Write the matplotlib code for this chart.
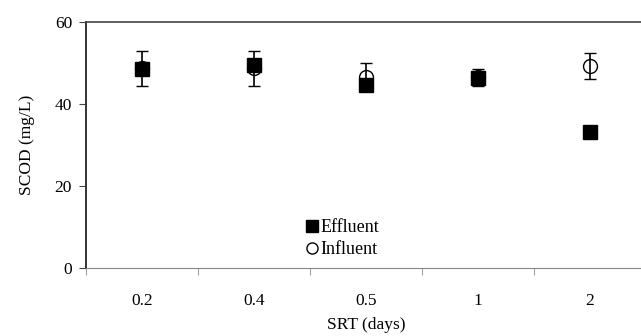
import numpy as np
import matplotlib
matplotlib.use("Agg")
import matplotlib.pyplot as plt
from matplotlib.lines import Line2D

# SCOD vs SRT, effluent and influent
srt = ["0.2", "0.4", "0.5", "1", "2"]
effluent = [48.6, 49.6, 44.7, 46.3, 33.1]
influent = [48.7, 48.7, 46.6, 46.5, 49.3]
influent_err = [4.2, 4.2, 3.3, 2.0, 3.2]

plt.rcParams["font.family"] = ["Liberation Serif", "DejaVu Serif"]
plt.rcParams["font.size"] = 12.5

fig = plt.figure(figsize=(6.41, 3.36), dpi=100)
ax = fig.add_axes([86/641, 68/336, 560/641, 246/336])

x = np.arange(len(srt))
ax.errorbar(x, influent, yerr=influent_err, fmt="o", ms=10, mfc="none",
            mec="black", mew=1, ecolor="black", elinewidth=1.2, capsize=4,
            capthick=1.2, zorder=2)
ax.plot(x, effluent, "s", ms=10, color="black", zorder=3)

ax.set_xlim(-0.5, len(srt) - 0.5)
ax.set_ylim(0, 60)
ax.set_yticks([0, 20, 40, 60])
ax.set_xticks(x)
ax.set_xticklabels(srt)
ax.set_xticks(np.arange(len(srt) + 1) - 0.5, minor=True)
ax.tick_params(axis="x", which="major", length=0, pad=18)
ax.tick_params(axis="x", which="minor", length=5, direction="out", color="#888888")
ax.tick_params(axis="y", length=5, direction="out", color="#444444", pad=5)

ax.spines["top"].set_color("#444444")
ax.spines["top"].set_linewidth(1.2)
ax.spines["right"].set_color("#666666")
ax.spines["left"].set_color("#333333")
ax.spines["bottom"].set_color("#888888")
ax.spines["left"].set_linewidth(1.4)

ax.set_xlabel("SRT (days)", labelpad=6)
ax.set_ylabel("SCOD (mg/L)", labelpad=14)

handles = [Line2D([], [], ls="none", marker="s", ms=8, color="black"),
           Line2D([], [], ls="none", marker="o", ms=8, mfc="none", mec="black")]
ax.legend(handles, ["Effluent", "Influent"], loc="center", bbox_to_anchor=(0.535, 0.29),
          bbox_transform=fig.transFigure, frameon=False, fontsize=13,
          handlelength=0.6, handletextpad=0.2, labelspacing=0.3, borderpad=0)

fig.savefig("out.png", dpi=100)
plt.close(fig)
